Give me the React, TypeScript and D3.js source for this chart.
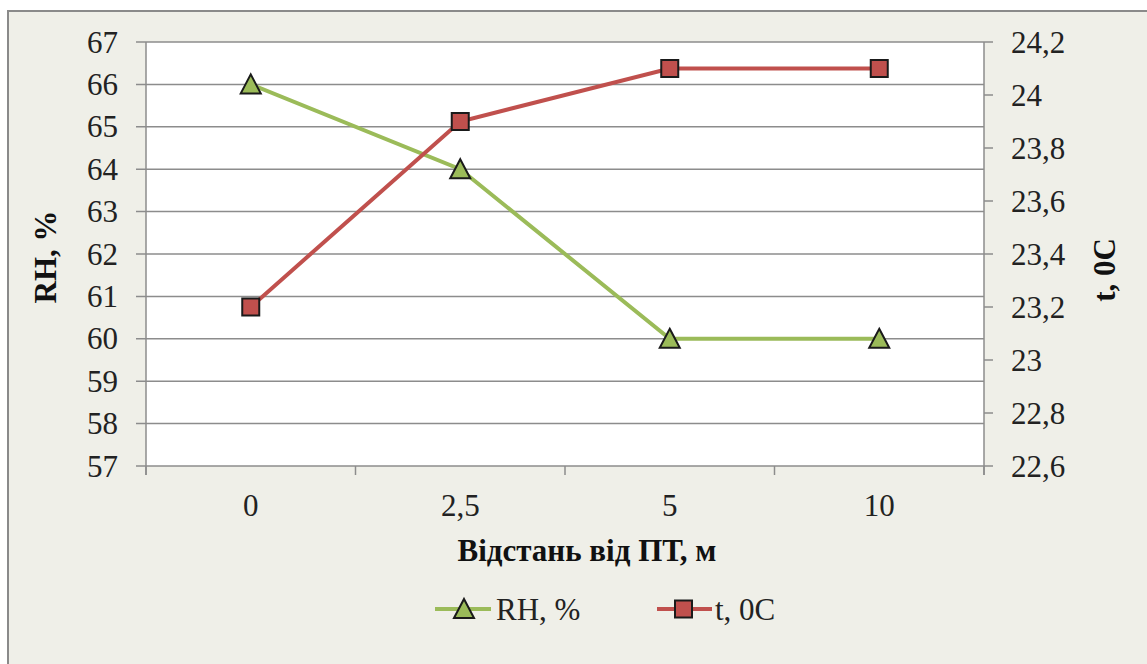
import React from "react";
import * as d3 from "d3";

const categories = ["0", "2,5", "5", "10"];
const rhValues = [66, 64, 60, 60];
const tValues = [23.2, 23.9, 24.1, 24.1];
const leftTicks = [57, 58, 59, 60, 61, 62, 63, 64, 65, 66, 67];
const rightTicks = [22.6, 22.8, 23, 23.2, 23.4, 23.6, 23.8, 24, 24.2];

const W = 1147;
const H = 664;
const plot = { left: 146, right: 984, top: 42, bottom: 466 };
const GREEN = "#9bbb59";
const RED = "#c0504d";
const FONT = "Liberation Serif";

const fmt = (v: number) => String(Math.round(v * 10) / 10).replace(".", ",");

export default function App() {
  const x = d3.scaleBand<string>().domain(categories).range([plot.left, plot.right]);
  const yL = d3.scaleLinear().domain([57, 67]).range([plot.bottom, plot.top]);
  const yR = d3.scaleLinear().domain([22.6, 24.2]).range([plot.bottom, plot.top]);
  const cx = (c: string) => (x(c) ?? 0) + x.bandwidth() / 2;

  const rhLine = d3.line<number>().x((_, i) => cx(categories[i])).y((d) => yL(d))(rhValues) ?? "";
  const tLine = d3.line<number>().x((_, i) => cx(categories[i])).y((d) => yR(d))(tValues) ?? "";

  const tri = (px: number, py: number) =>
    `M${px},${py - 10} L${px + 10},${py + 9} L${px - 10},${py + 9} Z`;

  const catBounds = [...categories.map((c) => x(c) ?? 0), plot.right];

  return (
    <svg width={W} height={H} style={{ position: "absolute", left: 0, top: 0 }}>
      <rect x={0} y={0} width={W} height={H} fill="#ffffff" />
      <rect x={8} y={11} width={W + 10} height={H + 10} fill="#efefe8" stroke="#8a8a8a" strokeWidth={2} />
      <rect x={plot.left} y={plot.top} width={plot.right - plot.left} height={plot.bottom - plot.top} fill="#ffffff" />
      {leftTicks.map((t) => (
        <line key={"g" + t} x1={plot.left - 10} x2={plot.right} y1={yL(t)} y2={yL(t)} stroke="#8c8c8c" strokeWidth={1.5} />
      ))}
      <line x1={plot.left} x2={plot.left} y1={plot.top} y2={plot.bottom + 9} stroke="#8c8c8c" strokeWidth={1.5} />
      <line x1={plot.right} x2={plot.right} y1={plot.top} y2={plot.bottom + 9} stroke="#8c8c8c" strokeWidth={1.5} />
      {catBounds.map((b, i) => (
        <line key={"cb" + i} x1={b} x2={b} y1={plot.bottom} y2={plot.bottom + 9} stroke="#8c8c8c" strokeWidth={1.5} />
      ))}
      {rightTicks.map((t) => (
        <line key={"rt" + t} x1={plot.right} x2={plot.right + 9} y1={yR(t)} y2={yR(t)} stroke="#8c8c8c" strokeWidth={1.5} />
      ))}
      <g fontFamily={FONT} fontSize={31} fill="#222">
        {leftTicks.map((t) => (
          <text key={"lt" + t} fontFamily={FONT} x={118} y={yL(t)} textAnchor="end" dominantBaseline="central">{t}</text>
        ))}
        {rightTicks.map((t) => (
          <text key={"rl" + t} fontFamily={FONT} x={1011} y={yR(t)} textAnchor="start" dominantBaseline="central">{fmt(t)}</text>
        ))}
        {categories.map((c) => (
          <text key={"c" + c} fontFamily={FONT} x={cx(c)} y={505} textAnchor="middle" dominantBaseline="central">{c}</text>
        ))}
      </g>
      <g fontFamily={FONT} fontSize={31} fontWeight="bold" fill="#111">
        <text fontFamily={FONT} x={587} y={550} textAnchor="middle" dominantBaseline="central">Відстань від ПТ, м</text>
        <text fontFamily={FONT} transform={`translate(45,257) rotate(-90)`} textAnchor="middle" dominantBaseline="central">RH, %</text>
        <text fontFamily={FONT} transform={`translate(1104,270) rotate(-90)`} textAnchor="middle" dominantBaseline="central">t, 0C</text>
      </g>
      <path d={rhLine} fill="none" stroke={GREEN} strokeWidth={4} />
      <path d={tLine} fill="none" stroke={RED} strokeWidth={4} />
      {rhValues.map((v, i) => (
        <path key={"m" + i} d={tri(cx(categories[i]), yL(v))} fill={GREEN} stroke="#1a1a1a" strokeWidth={2} />
      ))}
      {tValues.map((v, i) => (
        <rect key={"s" + i} x={cx(categories[i]) - 8.5} y={yR(v) - 8.5} width={17} height={17} fill={RED} stroke="#1a1a1a" strokeWidth={2} />
      ))}
      <g>
        <line x1={435} x2={491} y1={609} y2={609} stroke={GREEN} strokeWidth={4} />
        <path d={tri(464, 609)} fill={GREEN} stroke="#1a1a1a" strokeWidth={2} />
        <text fontFamily={FONT} x={496} y={609} fontSize={31} fill="#222" dominantBaseline="central">RH, %</text>
        <line x1={657} x2={712} y1={609} y2={609} stroke={RED} strokeWidth={4} />
        <rect x={675} y={600.5} width={17} height={17} fill={RED} stroke="#1a1a1a" strokeWidth={2} />
        <text fontFamily={FONT} x={715} y={609} fontSize={31} fill="#222" dominantBaseline="central">t, 0C</text>
      </g>
    </svg>
  );
}
